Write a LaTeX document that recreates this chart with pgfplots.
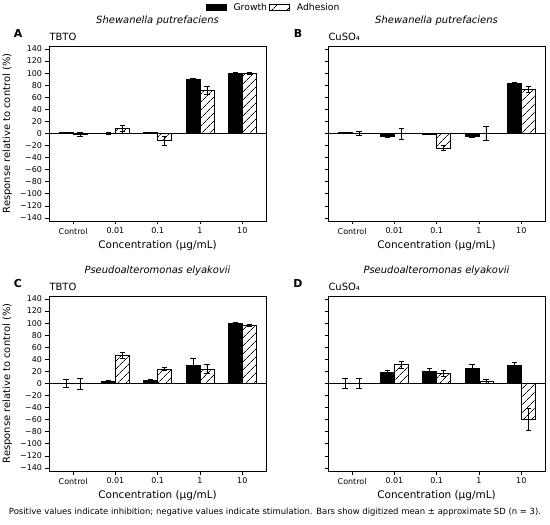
\documentclass[border=0pt]{standalone}
\usepackage{fontspec}
\setmainfont{DejaVu Sans}
\usepackage{graphicx}
\usepackage{pgfplots}
\pgfplotsset{compat=1.18}
\usetikzlibrary{patterns.meta}

\tikzset{hatchbar/.style={fill=white, draw=black, line width=0.8bp,
  postaction={pattern={Lines[angle=45,distance=6bp,line width=0.7bp]}}}}
\tikzset{solidbar/.style={fill=black, draw=black, line width=0.8bp}}

\pgfplotsset{
  panel/.style={
    scale only axis, width=217bp, height=175bp,
    xmin=-0.57, xmax=4.56, ymin=-145, ymax=145,
    xtick={0,1,2,3,4}, xticklabels={Control,0.01,0.1,1,10},
    ytick={-140,-120,...,140},
    tick align=outside, xtick pos=bottom, ytick pos=left,
    major tick length=3.5bp,
    every tick/.style={black, line width=0.7bp},
    axis line style={black, line width=0.8bp},
    ticklabel style={font=\fontsize{8}{9}\selectfont},
    xlabel={Concentration (µg/mL)},
    xlabel style={font=\fontsize{10.5}{12}\selectfont},
    ybar, bar width=0.33,
    error bars/y dir=both, error bars/y explicit,
    error bars/error bar style={black, line width=0.8bp},
    error bars/error mark options={rotate=90, black, mark size=2.7bp, line width=0.8bp},
  },
  leftpanel/.style={panel,
    yticklabels={−140,−120,−100,−80,−60,−40,−20,0,20,40,60,80,100,120,140},
    ylabel={Response relative to control (\%)},
    ylabel style={font=\fontsize{10}{12}\selectfont, yshift=1bp},
  },
  rightpanel/.style={panel, yticklabels={}},
}

\begin{document}
\begin{tikzpicture}
\path[use as bounding box] (0,0) rectangle (550bp,525bp);

% ---------- Panel A ----------
\begin{axis}[leftpanel, at={(49bp,304bp)}, anchor=south west,
  legend style={at={(1.035,1.218)}, anchor=center, legend columns=2, draw=none, fill=none,
    font=\fontsize{9.3}{11}\selectfont},
  legend image code/.code={\draw[#1] (0bp,-3bp) rectangle (20bp,3bp); \path (25bp,0bp);},
]
\draw[black, line width=0.8bp] (rel axis cs:0,0.5) -- (rel axis cs:1,0.5);
\addplot[solidbar, bar shift=-0.165] coordinates {
  (0,1) +- (0,1.5) (1,0.5) +- (0,1.5) (2,1) +- (0,1.5) (3,89) +- (0,3) (4,100) +- (0,2)};
\addplot[hatchbar, bar shift=0.165] coordinates {
  (0,-2) +- (0,3) (1,9) +- (0,5) (2,-12) +- (0,8) (3,71) +- (0,7) (4,100) +- (0,2)};
\legend{Growth\hspace{14bp}, Adhesion}
\end{axis}

% ---------- Panel B ----------
\begin{axis}[rightpanel, at={(328bp,304bp)}, anchor=south west]
\draw[black, line width=0.8bp] (rel axis cs:0,0.5) -- (rel axis cs:1,0.5);
\addplot[solidbar, bar shift=-0.165] coordinates {
  (0,1) +- (0,1.5) (1,-5) +- (0,2) (2,-1) +- (0,1) (3,-4) +- (0,2.5) (4,83) +- (0,2.5)};
\addplot[hatchbar, bar shift=0.165] coordinates {
  (0,0.5) +- (0,3) (1,0) +- (0,9) (2,-24) +- (0,4.5) (3,0.5) +- (0,12) (4,73) +- (0,4.5)};
\end{axis}

% ---------- Panel C ----------
\begin{axis}[leftpanel, at={(49bp,54bp)}, anchor=south west]
\draw[black, line width=0.8bp] (rel axis cs:0,0.5) -- (rel axis cs:1,0.5);
\addplot[solidbar, bar shift=-0.165] coordinates {
  (0,0) +- (0,7) (1,4) +- (0,1.5) (2,5) +- (0,1.5) (3,30) +- (0,12) (4,100) +- (0,1.5)};
\addplot[hatchbar, bar shift=0.165] coordinates {
  (0,0) +- (0,9) (1,47) +- (0,5) (2,24) +- (0,3) (3,24) +- (0,8) (4,96) +- (0,2)};
\end{axis}

% ---------- Panel D ----------
\begin{axis}[rightpanel, at={(328bp,54bp)}, anchor=south west]
\draw[black, line width=0.8bp] (rel axis cs:0,0.5) -- (rel axis cs:1,0.5);
\addplot[solidbar, bar shift=-0.165] coordinates {
  (0,0) +- (0,8) (1,18) +- (0,4) (2,20) +- (0,4.5) (3,25) +- (0,6.5) (4,30) +- (0,5)};
\addplot[hatchbar, bar shift=0.165] coordinates {
  (0,0) +- (0,8) (1,31) +- (0,5.5) (2,16) +- (0,5) (3,3) +- (0,3) (4,-59) +- (0,18)};
\end{axis}

% ---------- Texts ----------
\tikzset{ttl/.style={font=\fontsize{10}{12}\selectfont\itshape, anchor=center},
  lett/.style={font=\fontsize{11}{13}\selectfont\bfseries, anchor=center},
  sub/.style={font=\fontsize{10}{12}\selectfont, anchor=west}}
\node[ttl] at (157.5bp,504bp) {Shewanella putrefaciens};
\node[ttl] at (436.5bp,504bp) {Shewanella putrefaciens};
\node[ttl] at (157.5bp,254bp) {Pseudoalteromonas elyakovii};
\node[ttl] at (436.5bp,254bp) {Pseudoalteromonas elyakovii};
\node[lett] at (18bp,491bp) {A};
\node[lett] at (298bp,491bp) {B};
\node[lett] at (18bp,241bp) {C};
\node[lett] at (298bp,241bp) {D};
\node[sub] at (46bp,488bp) {TBTO};
\node[sub] at (325bp,488bp) {CuSO₄};
\node[sub] at (46bp,238bp) {TBTO};
\node[sub] at (325bp,238bp) {CuSO₄};
\node[font=\fontsize{8.5}{10}\selectfont, anchor=center] at (275bp,13bp)
  {Positive values indicate inhibition; negative values indicate stimulation. Bars show digitized mean ± approximate SD (n = 3).};
\end{tikzpicture}
\end{document}
